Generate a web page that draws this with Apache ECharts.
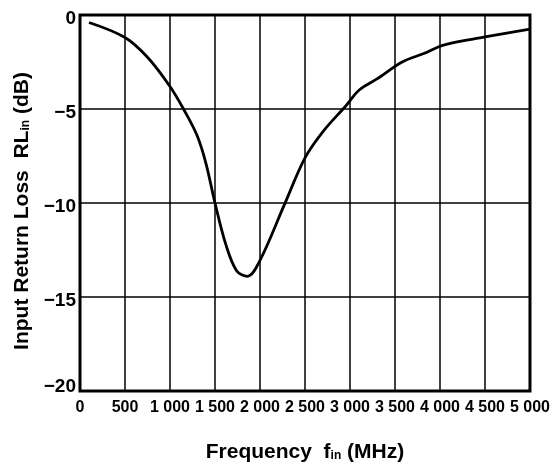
<!DOCTYPE html>
<html>
<head>
<meta charset="utf-8">
<script src="https://cdn.jsdelivr.net/npm/echarts@6/dist/echarts.min.js"></script>
<style>
html,body{margin:0;padding:0;background:#fff;}
#c{width:553px;height:468px;}
</style>
</head>
<body>
<div id="c"></div>
<script>
var freqMHz = [100, 500, 750, 1000, 1150, 1300, 1400, 1500, 1620, 1740, 1860, 2000, 2270, 2500, 2700, 2960, 3100, 3300, 3580, 3820, 4040, 4500, 5000];
var returnLossDb = [-0.4, -1.2, -2.25, -3.8, -5.0, -6.4, -7.9, -10.0, -12.2, -13.6, -13.9, -13.05, -10.1, -7.6, -6.2, -4.8, -4.0, -3.4, -2.5, -2.05, -1.6, -1.17, -0.75];
var xTickLabels = ['0', '500', '1 000', '1 500', '2 000', '2 500', '3 000', '3 500', '4 000', '4 500', '5 000'];
var yTickLabels = ['\u221220', '\u221215', '\u221210', '\u22125', '0'];

var points = freqMHz.map(function (f, i) { return [f, returnLossDb[i]]; });
var font = "'Liberation Sans', Arial, Helvetica, sans-serif";

var chart = echarts.init(document.getElementById('c'), null, { renderer: 'canvas' });
chart.setOption({
  animation: false,
  backgroundColor: '#fff',
  grid: {
    left: 80, top: 15, right: 21, bottom: 77,
    show: true, borderColor: '#000', borderWidth: 3, backgroundColor: 'transparent'
  },
  xAxis: {
    type: 'value', min: 0, max: 5000, interval: 500,
    axisLine: { show: false }, axisTick: { show: false },
    splitLine: { show: true, lineStyle: { color: '#000', width: 1.5 } },
    axisLabel: {
      margin: 9, color: '#000', fontFamily: font, fontSize: 16, fontWeight: 'bold',
      showMinLabel: true, showMaxLabel: true, hideOverlap: false,
      formatter: function (v) { return xTickLabels[Math.round(v / 500)]; }
    },
    name: '{a|Frequency  f}{s|in}{a| (MHz)}',
    nameLocation: 'middle', nameGap: 51,
    nameTextStyle: {
      rich: {
        a: { fontFamily: font, fontSize: 21, fontWeight: 'bold', color: '#000', verticalAlign: 'bottom' },
        s: { fontFamily: font, fontSize: 12, fontWeight: 'bold', color: '#000', verticalAlign: 'bottom', padding: [0, 0, 1, 0] }
      }
    }
  },
  yAxis: {
    type: 'value', min: -20, max: 0, interval: 5,
    axisLine: { show: false }, axisTick: { show: false },
    splitLine: { show: true, lineStyle: { color: '#000', width: 1.5 } },
    axisLabel: {
      margin: 4, color: '#000',
      formatter: function (v) {
        var i = Math.round((v + 20) / 5);
        return (i === 0 ? '{b|' : '{u|') + yTickLabels[i] + '}';
      },
      rich: {
        u: { fontFamily: font, fontSize: 19, fontWeight: 'bold', color: '#000', padding: [7, 0, 0, 0] },
        b: { fontFamily: font, fontSize: 19, fontWeight: 'bold', color: '#000', padding: [0, 0, 8, 0] }
      }
    },
    name: '{a|Input Return Loss  RL}{s|in}{a| (dB)}',
    nameLocation: 'middle', nameGap: 46, nameRotate: 90,
    nameTextStyle: {
      padding: [0, 16, 0, 0],
      rich: {
        a: { fontFamily: font, fontSize: 21, fontWeight: 'bold', color: '#000', verticalAlign: 'bottom' },
        s: { fontFamily: font, fontSize: 12, fontWeight: 'bold', color: '#000', verticalAlign: 'bottom', padding: [0, 0, 1, 0] }
      }
    }
  },
  series: [{
    type: 'line', data: points, smooth: 0.35, showSymbol: false,
    lineStyle: { color: '#000', width: 2.8 }, z: 5
  }]
});
</script>
</body>
</html>
